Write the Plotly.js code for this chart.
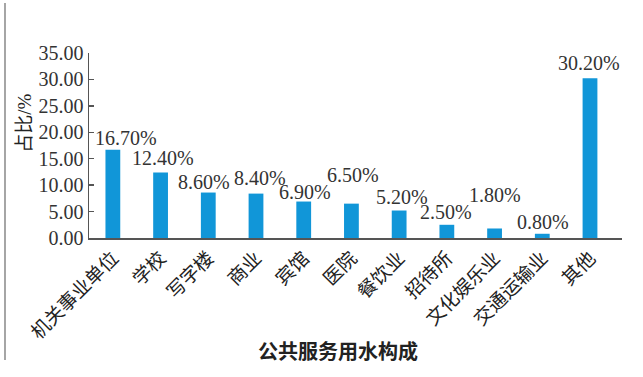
<!DOCTYPE html>
<html>
<head>
<meta charset="utf-8">
<script src="https://cdn.plot.ly/plotly-3.0.1.min.js"></script>
<style>html,body{margin:0;padding:0;background:#fff;}#chart{width:643px;height:377px;}</style>
</head>
<body>
<div id="chart"></div>
<script>
const categories = ["机关事业单位","学校","写字楼","商业","宾馆","医院","餐饮业","招待所","文化娱乐业","交通运输业","其他"];
const shares = [16.7, 12.4, 8.6, 8.4, 6.9, 6.5, 5.2, 2.5, 1.8, 0.8, 30.2];
const labelTexts = ["16.70%","12.40%","8.60%","8.40%","6.90%","6.50%","5.20%","2.50%","1.80%","0.80%","30.20%"];
const yTickVals = [0,5,10,15,20,25,30,35];
const yTickText = ["0.00","5.00","10.00","15.00","20.00","25.00","30.00","35.00"];
// label offsets (px) relative to bar top
const labelDx = [13, 2, -4, 4, 1, 2, 3, -1, 0, 1, -1];
const labelDy = [12, 14, 11, 16, 10, 29, 14, 13, 33, 12, 15];

const serif = "'Liberation Serif', 'Times New Roman', serif";
const cjk = "'Noto Sans CJK SC', sans-serif";

const trace = {
  type: "bar",
  x: categories,
  y: shares,
  width: 0.31,
  marker: {color: "#1196d8"},
  hoverinfo: "none"
};

const annotations = categories.map((c, i) => ({
  x: c, y: shares[i], xref: "x", yref: "y",
  text: labelTexts[i], showarrow: false,
  xanchor: "center", yanchor: "middle",
  xshift: labelDx[i], yshift: labelDy[i],
  font: {family: serif, size: 20, color: "#333"}
}));
annotations.push({
  x: -0.125, y: 0.62, xref: "paper", yref: "paper",
  text: "<span style=\"font-family:'Noto Sans CJK SC'\">占比</span>/%", textangle: -90, showarrow: false,
  xanchor: "center", yanchor: "middle",
  font: {family: serif, size: 19, color: "#222"}
});
annotations.push({
  x: 0.467, y: -0.61, xref: "paper", yref: "paper",
  text: "公共服务用水构成", showarrow: false,
  xanchor: "center", yanchor: "middle",
  font: {family: cjk, size: 20, color: "#222", weight: "bold"}
});

const layout = {
  width: 643, height: 377,
  margin: {l: 89, r: 21, t: 53, b: 139},
  paper_bgcolor: "#fff", plot_bgcolor: "#fff",
  showlegend: false,
  xaxis: {
    type: "category",
    tickangle: -45,
    tickfont: {family: cjk, size: 19, color: "#222"},
    showline: true, linecolor: "#555", linewidth: 1.5,
    ticks: "", showgrid: false, zeroline: false
  },
  yaxis: {
    range: [0, 35], tickvals: yTickVals, ticktext: yTickText,
    tickfont: {family: serif, size: 20, color: "#333"},
    showline: true, linecolor: "#555", linewidth: 1.5,
    ticks: "inside", ticklen: 5, tickcolor: "#555", tickwidth: 1.5,
    showgrid: false, zeroline: false
  },
  annotations: annotations,
  shapes: [{
    type: "line", xref: "paper", yref: "paper",
    x0: -0.1576, x1: -0.1576, y0: -0.659, y1: 1.27,
    line: {color: "#888", width: 1.5}
  }]
};

Plotly.newPlot("chart", [trace], layout, {staticPlot: true, displayModeBar: false});
</script>
</body>
</html>
